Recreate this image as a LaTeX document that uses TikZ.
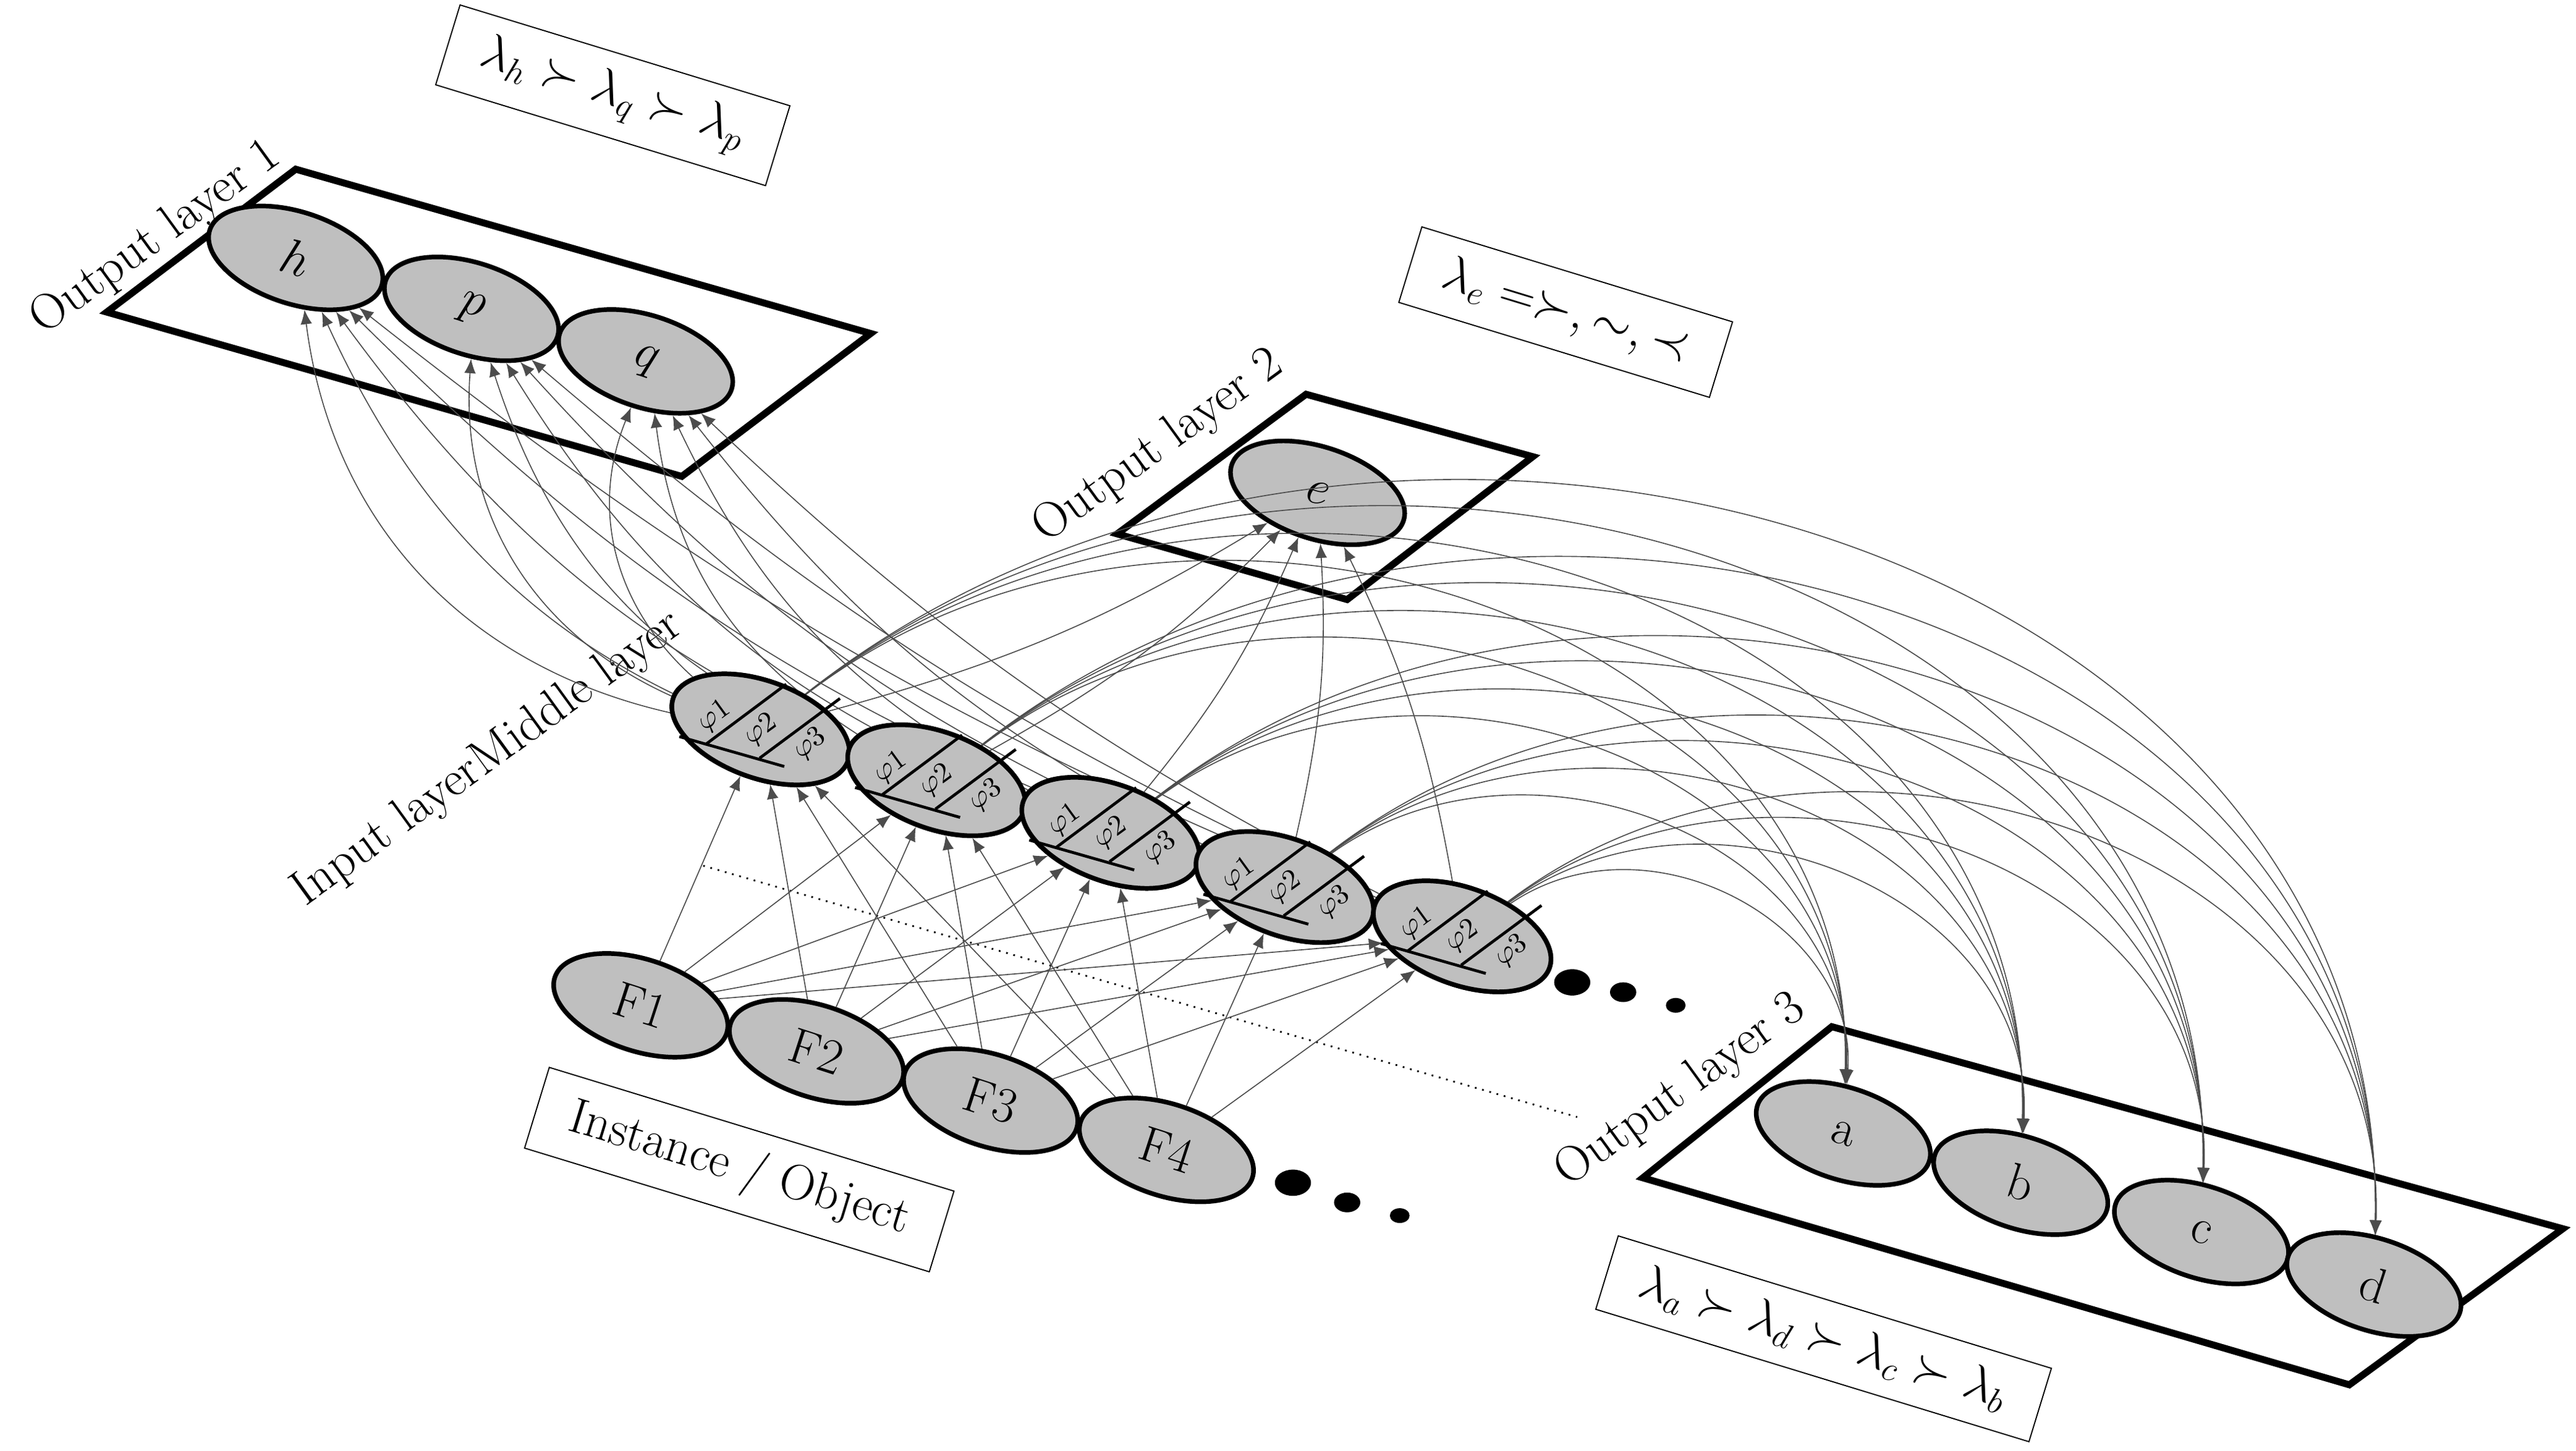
\documentclass[tikz,border=0pt]{standalone}
\usepackage{amssymb}
\usetikzlibrary{shapes.geometric,arrows.meta,calc}
\begin{document}
\begin{tikzpicture}[x=0.02cm,y=0.02cm,
  nd/.style={ellipse,draw,line width=1.6pt,fill=black!25,minimum width=2.2cm,minimum height=1.12cm,rotate=-18,font=\LARGE,inner sep=0pt},
  ph/.style={ellipse,draw,line width=1.6pt,fill=black!25,minimum width=2.26cm,minimum height=1.18cm,rotate=-20,inner sep=0pt},
  lay/.style={draw,line width=2.4pt,line join=miter},
  lbl/.style={rotate=36,font=\LARGE},
  cbox/.style={draw,rotate=-17,font=\LARGE,inner xsep=12pt,inner ysep=6pt},
  ed/.style={draw=black!70,line width=0.35pt,-{Latex[length=5pt,width=4pt]}},
  ph lab/.style={rotate=36,font=\normalsize,inner sep=0pt}]
\useasboundingbox (0,0) rectangle (1568,-883);
% layers
\draw[lay] (65,-190) -- (180,-103) -- (530,-203) -- (415,-290) -- cycle;
\draw[lay] (680,-325) -- (795,-240) -- (933,-278) -- (820,-365) -- cycle;
\draw[lay] (1000,-717) -- (1115,-625) -- (1560,-748) -- (1430,-843) -- cycle;
\node[lbl] at (95,-145) {Output layer 1};
\node[lbl] at (705,-272) {Output layer 2};
\node[lbl] at (1023,-664) {Output layer 3};
\node[lbl] at (297,-462) {Input layerMiddle layer};
\node[cbox] at (373,-58) {$\lambda_h\succ\lambda_q\succ\lambda_p$};
\node[cbox] at (953,-190) {$\lambda_e=\succ,\sim,\prec$};
\node[cbox] at (1110,-815) {$\lambda_a\succ\lambda_d\succ\lambda_c\succ\lambda_b$};
\node[cbox] at (450,-712) {Instance / Object};
% dotted
\coordinate (dA) at (428,-527); \coordinate (dB) at (960,-680);
\draw[dotted,line width=0.6pt] (dA) -- (dB);
% output nodes
\node[nd] (h) at (180,-157) {$h$};
\node[nd] (p) at (287,-188) {$p$};
\node[nd] (q) at (393,-220) {$q$};
\node[nd] (e) at (802,-300) {$e$};
\node[nd] (a) at (1122,-690) {a};
\node[nd] (b) at (1230,-720) {b};
\node[nd] (c) at (1340,-750) {c};
\node[nd] (d) at (1445,-782) {d};
% input nodes
\node[nd] (F1) at (390,-612) {F1};
\node[nd] (F2) at (497,-640) {F2};
\node[nd] (F3) at (603,-670) {F3};
\node[nd] (F4) at (710,-700) {F4};
% dots
\fill (957,-598) ellipse (11 and 8);
\fill (988,-604) ellipse (8 and 6);
\fill (1020,-612) ellipse (6 and 4.5);
\fill (787,-720) ellipse (11 and 8);
\fill (820,-732) ellipse (8 and 6);
\fill (852,-740) ellipse (6 and 4.5);
% phi nodes
\foreach \i/\x/\y in {1/463/444,2/570/475,3/676/507,4/782/540,5/890/570}{
  \node[ph] (P\i) at (\x,-\y) {};
}
% edges F -> phi
\foreach \f in {F1,F2,F3,F4}{
  \foreach \i in {1,...,5}{
    \draw[ed] (\f) -- (P\i);
  }
}
% phi -> output 1 and 2
\foreach \i/\bb in {1/35,2/25,3/18,4/12,5/8}{
  \draw[ed] (P\i) to[bend left=\bb] (h);
  \draw[ed] (P\i) to[bend left=\bb] (p);
  \draw[ed] (P\i) to[bend left=\bb] (q);
  \draw[ed] (P\i) to[bend right=8] (e);
}
% phi -> output 3
\foreach \i in {1,...,5}{
  \foreach \t in {a,b,c,d}{
    \draw[ed] (P\i) to[out=40,in=90,looseness=1.1] (\t);
  }
}
% phi interiors (on top)
\foreach \i in {1,...,5}{
  \node[ph] at (P\i) {};
  \draw[line width=1pt] ($(P\i)+(-49.5,-4.4)$) -- ($(P\i)+(14.4,-22.6)$);
  \draw[line width=1pt] ($(P\i)+(-33,-8.8)$) -- ($(P\i)+(15.6,27.5)$);
  \draw[line width=1pt] ($(P\i)+(-0.6,-17.5)$) -- ($(P\i)+(48.3,18.8)$);
  \node[ph lab] at ($(P\i)+(-28,8)$) {$\varphi$1};
  \node[ph lab] at ($(P\i)+(0,0)$) {$\varphi$2};
  \node[ph lab] at ($(P\i)+(30,-9)$) {$\varphi$3};
}
\end{tikzpicture}
\end{document}
